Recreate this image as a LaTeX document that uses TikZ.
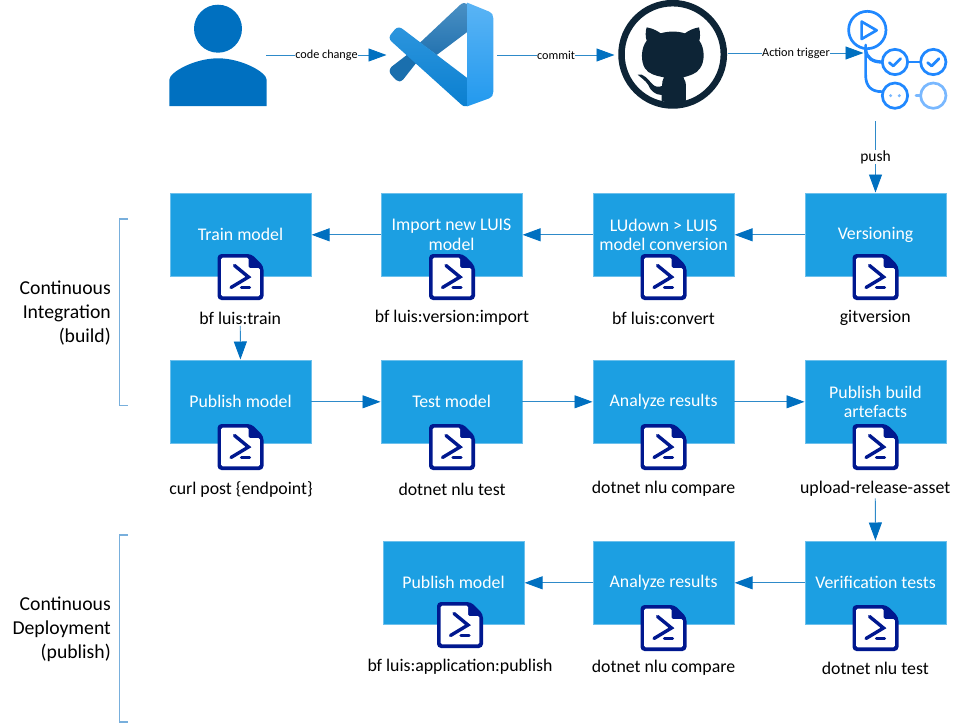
\documentclass[tikz,border=0pt]{standalone}
\usepackage{fontspec}
\setmainfont{Carlito}
\usetikzlibrary{arrows.meta}
\definecolor{boxblue}{HTML}{1C9FE2}
\definecolor{boxedge}{HTML}{6DC0EC}
\definecolor{arrowblue}{HTML}{0070C0}
\definecolor{linkblue}{HTML}{2E8AC9}
\definecolor{brk}{HTML}{78AFDC}
\definecolor{ghdark}{HTML}{0D2436}
\definecolor{actblue}{HTML}{2088FF}
\definecolor{actlight}{HTML}{79B8FF}
\definecolor{psnavy}{HTML}{00188F}
\definecolor{vsarmtop}{HTML}{4A90C4}
\definecolor{vsarmbot}{HTML}{2473B0}
\definecolor{vsstub}{HTML}{1A6FAE}
\definecolor{vsbandtop}{HTML}{2C95DD}
\definecolor{vsbandbot}{HTML}{0A7FD0}
\definecolor{vspaneltop}{HTML}{5AB4F5}
\definecolor{vspanelbot}{HTML}{2299EE}
\tikzset{
  x=1pt,y=-1pt,
  stagebox/.style={rectangle,draw=boxedge,line width=0.6pt,fill=boxblue,text=white,minimum width=140.5pt,minimum height=83pt,inner sep=0pt,align=center,font=\fontsize{17.8}{19.5}\selectfont,anchor=north west},
  cmdlabel/.style={inner sep=1.5pt,font=\fontsize{17.8}{19}\selectfont,text=black},
  sidelabel/.style={anchor=east,inner sep=0pt,align=right,font=\fontsize{19.7}{24}\selectfont,text=black},
  logo/.style={rectangle,minimum width=#1,inner sep=0pt,draw=none},
  link/.style={draw=linkblue,line width=0.9pt,-{Triangle[length=18pt,width=13pt,color=arrowblue]},shorten >=0.5pt},
  edgetext/.style={fill=white,inner sep=0.5pt,font=\fontsize{12.2}{14}\selectfont,text=black},
  bracket/.style={draw=brk,line width=1.5pt},
  psicon/.pic={
    \fill[psnavy,rounded corners=4pt] (-23,-23) -- (11,-23) -- (23,-11) -- (23,23) -- (-23,23) -- cycle;
    \fill[white,rounded corners=1.5pt] (-19.3,-19.3) -- (8,-19.3) -- (8,-9) -- (19.3,-9) -- (19.3,19.3) -- (-19.3,19.3) -- cycle;
    \draw[psnavy,line width=3.4pt,line cap=round,line join=miter] (-6,-11.5) -- (8,0) -- (-9.5,10.5);
    \draw[psnavy,line width=3.2pt,line cap=round] (1,10.5) -- (9,10.5);
  }
}
\begin{document}
\begin{tikzpicture}
\useasboundingbox (0,0) rectangle (961,723);

% user logo
\node[logo=98pt,minimum height=101pt] (user) at (218,55) {};
\fill[arrowblue] (218,28.7) circle (24);
\fill[arrowblue] (169.3,106) -- (169.3,80) .. controls (169.3,72) and (195,58.3) .. (218,58.3) .. controls (241,58.3) and (266.7,72) .. (266.7,80) -- (266.7,106) -- cycle;

% vs code logo
\node[logo=103pt,minimum height=103pt] (code) at (441.5,55) {};
\begin{scope}[shift={(150,0)},x=0.3333pt,y=-0.3333pt]
  \shade[top color=vsarmtop,bottom color=vsarmbot] (930,15) .. controls (938,8) and (945,7) .. (953,12) -- (953,95) -- (860,165) -- (810,128) -- cycle;
  \fill[vsstub] (725,200) -- (790,150) -- (812,172) -- (760,238) .. controls (752,246) and (745,246) .. (738,240) -- (725,226) .. controls (717,218) and (717,208) .. (725,200) -- cycle;
  \shade[top color=vsbandtop,bottom color=vsbandbot] (725,100) -- (735,88) .. controls (742,81) and (750,81) .. (758,87) -- (953,235) -- (953,318) .. controls (945,322) and (938,318) .. (930,310) -- (725,125) .. controls (717,118) and (717,108) .. (725,100) -- cycle;
  \shade[top color=vspaneltop,bottom color=vspanelbot] (952,8) -- (1018,35) .. controls (1026,38) and (1030,45) .. (1030,55) -- (1030,275) .. controls (1030,285) and (1026,292) .. (1018,295) -- (952,319) -- cycle;
\end{scope}

% github logo
\node[logo=110pt,minimum height=109pt] (hub) at (673,54.5) {};
\begin{scope}[shift={(600,0)},x=0.3333pt,y=-0.3333pt]
  \draw[ghdark,line width=6.5pt] (218,163) circle (153.5);
  \fill[ghdark] (140,82) .. controls (160,85) and (175,95) .. (182,100) .. controls (205,93) and (232,93) .. (255,100) .. controls (265,92) and (280,85) .. (297,82) .. controls (302,100) and (300,115) .. (298,122) .. controls (315,145) and (315,185) .. (300,205) .. controls (290,222) and (265,228) .. (250,232) .. controls (256,240) and (258,250) .. (258,262) -- (258,302) .. controls (235,312) and (205,312) .. (185,302) -- (185,285) .. controls (165,285) and (150,270) .. (145,255) .. controls (135,240) and (125,235) .. (113,224) .. controls (130,218) and (145,240) .. (155,250) .. controls (165,262) and (175,262) .. (186,258) .. controls (186,248) and (188,238) .. (192,232) .. controls (170,228) and (145,222) .. (135,205) .. controls (122,185) and (122,145) .. (140,122) .. controls (136,110) and (136,95) .. (140,82) -- cycle;
\end{scope}

% actions logo
\node[logo=100pt,minimum height=110pt] (act) at (864,53) {};
\node[logo=0pt,minimum height=0pt] (actbase) at (875.5,121) {};
\begin{scope}[shift={(600,0)},x=0.3333pt,y=-0.3333pt,line width=2.7pt,line cap=round]
  \draw[actblue] (802,90) circle (56);
  \draw[actblue,line join=round] (785,65) -- (830,91) -- (785,117) -- cycle;
  \draw[actblue,line width=2.7pt] (797,135) -- (797,225) .. controls (797,260) and (815,275) .. (845,275);
  \draw[actblue,line width=3.3pt] (797,150) .. controls (800,175) and (820,186) .. (845,186);
  \draw[actblue] (885,186) circle (38);
  \draw[actblue] (1000,186) circle (38);
  \draw[actblue] (923,186) -- (962,186);
  \draw[actblue] (885,287) circle (38);
  \draw[actlight] (1000,287) circle (38);
  \draw[actlight] (948,287) -- (962,287);
  \draw[actblue,line join=round] (868,188) -- (880,198) -- (902,176);
  \draw[actblue,line join=round] (983,188) -- (995,198) -- (1017,176);
  \fill[actlight] (872,287) circle (5) (898,287) circle (5);
\end{scope}

% stage boxes
\node[stagebox] (b11) at (170,193) {Train model};
\node[stagebox] (b12) at (381,193) {Import new LUIS\\model};
\node[stagebox] (b13) at (593,193) {LUdown > LUIS\\model conversion};
\node[stagebox] (b14) at (805,193) {Versioning};
\node[stagebox] (b21) at (170,360) {Publish model};
\node[stagebox] (b22) at (381,360) {Test model};
\node[stagebox] (b23) at (593,360) {Analyze results};
\node[stagebox] (b24) at (805,360) {Publish build\\artefacts};
\node[stagebox] (b32) at (383,541) {Publish model};
\node[stagebox] (b33) at (593,541) {Analyze results};
\node[stagebox] (b34) at (805,541) {Verification tests};

% script icons
\foreach \cx/\cy in {240.5/277,452/277,663.5/277,875.5/277,240.5/447,452/447,663.5/447,875.5/447,460/625,663.5/628,875.5/628}
  \pic at (\cx,\cy) {psicon};

% command labels
\node[cmdlabel] (l11) at (240.25,318) {bf luis:train};
\node[cmdlabel] (l12) at (452,318) {bf luis:version:import};
\node[cmdlabel] (l13) at (663.5,318) {bf luis:convert};
\node[cmdlabel] (l14) at (875.25,318) {gitversion};
\node[cmdlabel] (l21) at (241,489) {curl post \{endpoint\}};
\node[cmdlabel] (l22) at (452,489) {dotnet nlu test};
\node[cmdlabel] (l23) at (663.5,489) {dotnet nlu compare};
\node[cmdlabel] (l24) at (875.25,489) {upload-release-asset};
\node[cmdlabel] (l32) at (460,667) {bf luis:application:publish};
\node[cmdlabel] (l33) at (663.5,668) {dotnet nlu compare};
\node[cmdlabel] (l34) at (875.25,668) {dotnet nlu test};

% side labels and brackets
\node[sidelabel] (ci) at (111,313) {Continuous\\Integration\\(build)};
\node[sidelabel] (cd) at (111,629) {Continuous\\Deployment\\(publish)};
\draw[bracket] (128,219) -- (119.5,219) -- (119.5,405.5) -- (128,405.5);
\draw[bracket] (128,535) -- (119.5,535) -- (119.5,722) -- (128,722);

% top connectors
\coordinate (userout) at (266,55);
\coordinate (codein) at (387,55);
\coordinate (codeout) at (497,55);
\coordinate (hubin) at (615,55);
\coordinate (hubout) at (728,53);
\coordinate (actin) at (864,53);
\draw[link] (userout) -- node[edgetext] (t1) {code change} (codein);
\draw[link] (codeout) -- node[edgetext] (t2) {commit} (hubin);
\draw[link] (hubout) -- node[edgetext] (t3) {Action trigger} (actin);
\draw[link] (actbase) -- node[edgetext,font=\fontsize{15.5}{17}\selectfont] (t4) {push} (b14.north -| actbase);

% process connectors
\draw[link] (b14) -- (b13);
\draw[link] (b13) -- (b12);
\draw[link] (b12) -- (b11);
\draw[link] (l11) -- (b21);
\draw[link] (b21) -- (b22);
\draw[link] (b22) -- (b23);
\draw[link] (b23) -- (b24);
\draw[link] (l24) -- (b34);
\draw[link] (b34) -- (b33);
\draw[link] (b33) -- (b32);
\end{tikzpicture}
\end{document}
